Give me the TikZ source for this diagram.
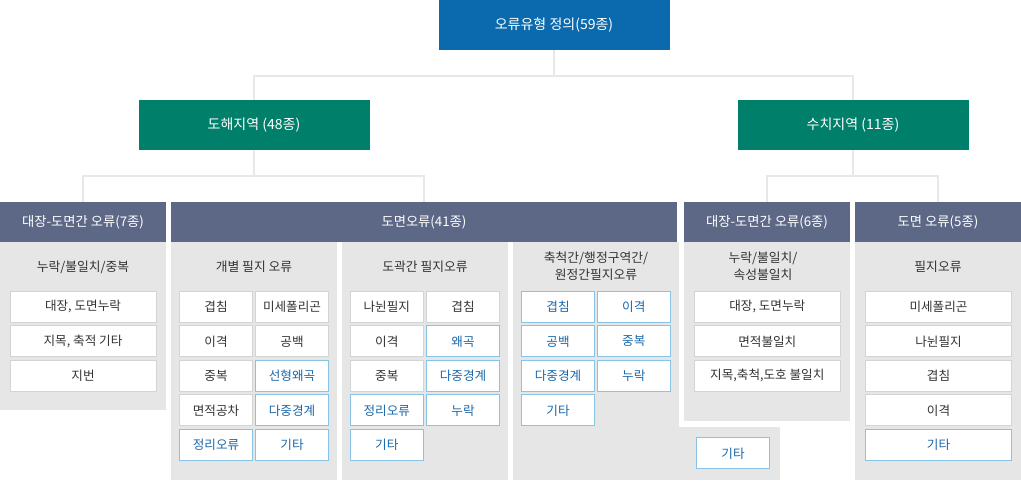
\documentclass[tikz,border=0pt]{standalone}
\usepackage{fontspec}
\setmainfont{Noto Sans CJK KR}
\definecolor{rootblue}{RGB}{11,106,173}
\definecolor{regiongreen}{RGB}{0,127,106}
\definecolor{slate}{RGB}{93,104,135}
\definecolor{panelgray}{RGB}{230,230,230}
\definecolor{linegray}{RGB}{232,232,232}
\definecolor{btnedge}{RGB}{212,212,212}
\definecolor{blueedge}{RGB}{136,194,229}
\definecolor{bluetext}{RGB}{26,104,170}
\definecolor{darktext}{RGB}{51,51,51}

\begin{document}
\begin{tikzpicture}[
    x=1pt, y=-1pt,
    topbox/.style={fill=#1, text=white, minimum width=231pt, minimum height=50pt, inner sep=0pt, font=\fontsize{14}{17}\selectfont},
    head/.style={fill=slate, text=white, minimum width=166pt, minimum height=40pt, inner sep=0pt, font=\fontsize{13.3}{16}\selectfont},
    conn/.style={draw=linegray, line width=2pt},
    sub/.style={text=darktext, align=center, font=\fontsize{12.8}{17}\selectfont},
    btn/.style={draw=btnedge, fill=white, line width=1pt, minimum width=72.6pt, minimum height=31pt, inner sep=0pt, text=darktext, font=\fontsize{12.6}{15}\selectfont},
    bbtn/.style={btn, draw=blueedge, text=bluetext},
    wide/.style={minimum width=146pt}
  ]
    \useasboundingbox (0,0) rectangle (1021,480);

    % panels
    \fill[panelgray] (0,242) rectangle (166,409.5);
    \fill[panelgray] (171,242) rectangle (336.7,480);
    \fill[panelgray] (342,242) rectangle (507.7,480);
    \fill[panelgray] (512.7,242) rectangle (679,480);
    \fill[panelgray] (684,242) rectangle (850,421);
    \fill[panelgray] (679,427) rectangle (780,480);
    \fill[panelgray] (855,242) rectangle (1021,480);

    % tree
    \node[topbox=rootblue] (root) at (554,25) {오류유형 정의(59종)};
    \node[topbox=regiongreen] (dohae) at (254,125) {도해지역 (48종)};
    \node[topbox=regiongreen] (suchi) at (853,125) {수치지역 (11종)};

    \node[head] (daejang7) at (83,222) {대장-도면간 오류(7종)};
    \node[head, minimum width=506pt] (domyeon41) at (424,222) {도면오류(41종)};
    \node[head] (daejang6) at (767,222) {대장-도면간 오류(6종)};
    \node[head] (domyeon5) at (938,222) {도면 오류(5종)};

    \draw[conn] (root.south) -- ++(0,26) -| (dohae.north);
    \draw[conn] (root.south) -- ++(0,26) -| (suchi.north);
    \draw[conn] (dohae.south) -- ++(0,26) -| (daejang7.north);
    \draw[conn] (dohae.south) -- ++(0,26) -| (domyeon41.north);
    \draw[conn] (suchi.south) -- ++(0,26) -| (daejang6.north);
    \draw[conn] (suchi.south) -- ++(0,26) -| (domyeon5.north);

    % sub titles
    \node[sub] (sub1) at (83,267) {누락/불일치/중복};
    \node[sub] (sub2) at (254,267) {개별 필지 오류};
    \node[sub] (sub3) at (425,267) {도곽간 필지오류};
    \node[sub] (sub4) at (596,266.5) {축척간/행정구역간/\\원정간필지오류};
    \node[sub] (sub5) at (763,266.5) {누락/불일치/\\속성불일치};
    \node[sub] (sub6) at (938,267) {필지오류};

    % 대장-도면간 (7종)
    \node[btn, wide] (a1) at (83,306.8) {대장, 도면누락};
    \node[btn, wide] (a2) at (83,341.3) {지목, 축적 기타};
    \node[btn, wide] (a3) at (83,375.8) {지번};

    % 개별 필지 오류
    \node[btn] (b1) at (216,306.8) {겹침};
    \node[btn] (b2) at (292,306.8) {미세폴리곤};
    \node[btn] (b3) at (216,341.3) {이격};
    \node[btn] (b4) at (292,341.3) {공백};
    \node[btn] (b5) at (216,375.8) {중복};
    \node[bbtn] (b6) at (292,375.8) {선형왜곡};
    \node[btn] (b7) at (216,410.3) {면적공차};
    \node[bbtn] (b8) at (292,410.3) {다중경계};
    \node[bbtn] (b9) at (216,444.8) {정리오류};
    \node[bbtn] (b10) at (292,444.8) {기타};

    % 도곽간 필지오류
    \node[btn] (c1) at (386.8,306.8) {나뉜필지};
    \node[btn] (c2) at (463,306.8) {겹침};
    \node[btn] (c3) at (386.8,341.3) {이격};
    \node[bbtn] (c4) at (463,341.3) {왜곡};
    \node[btn] (c5) at (386.8,375.8) {중복};
    \node[bbtn] (c6) at (463,375.8) {다중경계};
    \node[bbtn] (c7) at (386.8,410.3) {정리오류};
    \node[bbtn] (c8) at (463,410.3) {누락};
    \node[bbtn] (c9) at (386.8,444.8) {기타};

    % 축척간/행정구역간/원정간
    \node[bbtn] (d1) at (558,306.8) {겹침};
    \node[bbtn] (d2) at (633.8,306.8) {이격};
    \node[bbtn] (d3) at (558,341.3) {공백};
    \node[bbtn] (d4) at (633.8,341.3) {중복};
    \node[bbtn] (d5) at (558,375.8) {다중경계};
    \node[bbtn] (d6) at (633.8,375.8) {누락};
    \node[bbtn] (d7) at (558,410.3) {기타};

    % 대장-도면간 (6종)
    \node[btn, wide] (e1) at (767.3,306.8) {대장, 도면누락};
    \node[btn, wide] (e2) at (767.3,341.3) {면적불일치};
    \node[btn, wide] (e3) at (767.3,375.8) {지목,축척,도호 불일치};
    \node[bbtn] (e4) at (733,453.3) {기타};

    % 도면 오류 (5종)
    \node[btn, wide] (f1) at (938.5,306.8) {미세폴리곤};
    \node[btn, wide] (f2) at (938.5,341.3) {나뉜필지};
    \node[btn, wide] (f3) at (938.5,375.8) {겹침};
    \node[btn, wide] (f4) at (938.5,410.3) {이격};
    \node[bbtn, wide] (f5) at (938.5,444.8) {기타};
  \end{tikzpicture}
\end{document}
